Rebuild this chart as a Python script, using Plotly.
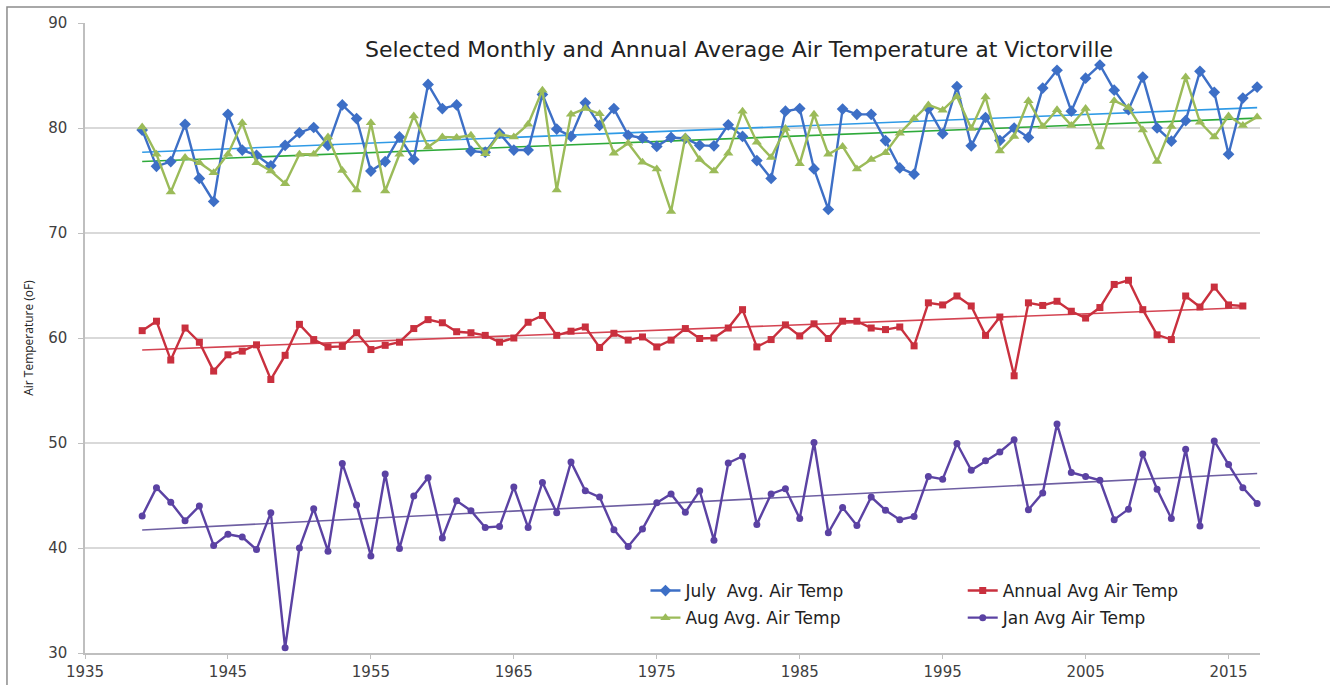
import numpy as np
import plotly.graph_objects as go


# years of record
years = list(range(1939, 2018))

# July average air temperature (oF)
july_temp = [79.8, 76.35, 76.8, 80.35, 75.2, 73.0, 81.3, 77.9, 77.4, 76.4,
             78.35, 79.55, 80.05, 78.35, 82.2, 80.9, 75.9, 76.8, 79.15, 77.0,
             84.15, 81.85, 82.2, 77.8, 77.7, 79.5, 77.9, 77.9, 83.2, 79.9,
             79.2, 82.4, 80.25, 81.85, 79.3, 79.05, 78.25, 79.1, 79.0, 78.35,
             78.3, 80.3, 79.2, 76.9, 75.2, 81.6, 81.85, 76.1, 72.25, 81.8,
             81.3, 81.3, 78.8, 76.2, 75.6, 81.85, 79.45, 83.95, 78.3, 81.0,
             78.8, 80.0, 79.1, 83.8, 85.5, 81.6, 84.75, 86.0, 83.6, 81.75,
             84.85, 80.0, 78.75, 80.7, 85.4, 83.4, 77.5, 82.85, 83.9]

# August average air temperature (oF)
aug_temp = [80.1, 77.5, 73.9, 77.2, 76.7, 75.75, 77.5, 80.5, 76.7, 75.9,
            74.7, 77.5, 77.5, 79.15, 75.95, 74.1, 80.5, 74.0, 77.5, 81.15,
            78.2, 79.15, 79.1, 79.3, 77.55, 79.4, 79.15, 80.35, 83.6, 74.1,
            81.3, 81.85, 81.35, 77.6, 78.55, 76.75, 76.1, 72.05, 79.15, 77.0,
            75.9, 77.6, 81.6, 78.65, 77.2, 79.95, 76.6, 81.3, 77.5, 78.25,
            76.1, 77.0, 77.65, 79.5, 80.9, 82.2, 81.7, 83.0, 79.95, 82.95,
            77.8, 79.2, 82.6, 80.15, 81.75, 80.25, 81.85, 78.2, 82.6, 81.95,
            79.8, 76.8, 80.15, 84.85, 80.55, 79.15, 81.15, 80.25, 81.05]

# annual average air temperature (oF), no value for 2017
annual_temp = [60.7, 61.6, 57.9, 60.95, 59.6, 56.85, 58.4, 58.75, 59.35, 56.05,
               58.35, 61.3, 59.85, 59.15, 59.2, 60.5, 58.9, 59.3, 59.6, 60.9,
               61.75, 61.45, 60.6, 60.5, 60.25, 59.6, 60.0, 61.5, 62.15, 60.25,
               60.65, 61.05, 59.1, 60.45, 59.8, 60.1, 59.15, 59.8, 60.9, 59.95,
               60.0, 60.95, 62.7, 59.15, 59.85, 61.25, 60.2, 61.35, 59.95, 61.6,
               61.6, 60.95, 60.8, 61.05, 59.25, 63.35, 63.15, 64.0, 63.05, 60.25,
               62.0, 56.4, 63.35, 63.1, 63.5, 62.55, 61.9, 62.9, 65.1, 65.5,
               62.7, 60.3, 59.85, 64.0, 62.95, 64.85, 63.15, 63.05, None]

# January average air temperature (oF)
jan_temp = [43.05, 45.75, 44.35, 42.6, 44.0, 40.25, 41.3, 41.05, 39.85, 43.35,
            30.5, 40.0, 43.75, 39.7, 48.05, 44.1, 39.25, 47.05, 39.95, 44.95,
            46.7, 40.95, 44.5, 43.55, 41.95, 42.05, 45.8, 41.95, 46.25, 43.35,
            48.2, 45.45, 44.85, 41.75, 40.15, 41.8, 44.3, 45.15, 43.4, 45.45,
            40.75, 48.1, 48.75, 42.25, 45.15, 45.65, 42.8, 50.05, 41.45, 43.85,
            42.15, 44.85, 43.6, 42.7, 43.0, 46.8, 46.55, 49.95, 47.4, 48.3,
            49.15, 50.3, 43.65, 45.25, 51.8, 47.2, 46.8, 46.45, 42.7, 43.7,
            48.95, 45.6, 42.8, 49.4, 42.1, 50.2, 47.95, 45.75, 44.25]


# 线性趋势线 (和Excel的linear trendline一样)
def trend_line(x, y):
    xs = [a for a, b in zip(x, y) if b is not None]
    ys = [b for b in y if b is not None]
    k, c = np.polyfit(xs, ys, 1)
    xx = [xs[0], xs[-1]]
    return xx, [k * v + c for v in xx]


# series: name, values, line colour, marker, trend colour, legend
series = [
    ('July  Avg. Air Temp', july_temp, '#3D6FC6', 'diamond', 9, '#2F9AE6', 'legend'),
    ('Aug Avg. Air Temp', aug_temp, '#9BBB59', 'triangle-up', 9, '#2EAA3A', 'legend'),
    ('Annual Avg Air Temp', annual_temp, '#C9303E', 'square', 7, '#D44452', 'legend2'),
    ('Jan Avg Air Temp', jan_temp, '#5B42A3', 'circle', 7, '#6E5FA2', 'legend2'),
]

fig = go.Figure()

for name, vals, color, symbol, msize, tcolor, leg in series:
    tx, ty = trend_line(years, vals)
    fig.add_trace(go.Scatter(
        x=tx, y=ty, mode='lines',
        line=dict(color=tcolor, width=1.6),
        showlegend=False, hoverinfo='skip'
    ))

for name, vals, color, symbol, msize, tcolor, leg in series:
    fig.add_trace(go.Scatter(
        x=years, y=vals, name=name,
        mode='lines+markers',
        line=dict(color=color, width=2.4),
        marker=dict(symbol=symbol, size=msize, color=color),
        legend=leg, legendgroup=name,
        cliponaxis=False
    ))

font_name = 'DejaVu Sans, Verdana, Arial'
axis_font = dict(family=font_name, size=15, color='#404040')

fig.update_layout(
    width=1330, height=685,
    margin=dict(l=85, r=70, t=23, b=32),
    paper_bgcolor='white',
    plot_bgcolor='white',
    font=dict(family=font_name, color='#222222'),
    xaxis=dict(
        range=[1935, 2017.2], tick0=1935, dtick=10,
        showgrid=False, zeroline=False,
        showline=True, linecolor='#BFBFBF', linewidth=1.5,
        ticks='outside', ticklen=4, tickcolor='#BFBFBF',
        tickfont=axis_font, automargin=False
    ),
    yaxis=dict(
        range=[30, 90], dtick=10,
        showgrid=True, gridcolor='#D9D9D9', gridwidth=1.5, zeroline=False,
        showline=True, linecolor='#BFBFBF', linewidth=1.5,
        ticks='outside', ticklen=5, tickcolor='#BFBFBF',
        ticklabelstandoff=8,
        tickfont=axis_font,
        title=dict(text='Air Temperature (oF)', standoff=12,
                   font=dict(family='Open Sans, Arial', size=12, color='#222222'))
    ),
    legend=dict(
        x=0.477, y=0.077, xanchor='left', yanchor='middle',
        bgcolor='rgba(0,0,0,0)', tracegroupgap=2,
        font=dict(family=font_name, size=17, color='#222222')
    ),
    legend2=dict(
        x=0.747, y=0.077, xanchor='left', yanchor='middle',
        bgcolor='rgba(0,0,0,0)', tracegroupgap=2,
        font=dict(family=font_name, size=17, color='#222222')
    ),
    annotations=[dict(
        text='Selected Monthly and Annual Average Air Temperature at Victorville',
        xref='paper', yref='paper', x=0.5566, y=0.9587,
        xanchor='center', yanchor='middle', showarrow=False,
        font=dict(family=font_name, size=22, color='#222222')
    )],
    shapes=[dict(
        type='rect', xref='paper', yref='paper',
        x0=-0.0664, x1=1.1, y0=-0.1, y1=1.0254,
        line=dict(color='#8C8C8C', width=1.5), layer='below'
    )]
)

# 去掉页面body的默认边距, 不显示工具栏
fig.write_html("out.html", config={'displayModeBar': False},
               post_script="document.body.style.margin='0px';")
